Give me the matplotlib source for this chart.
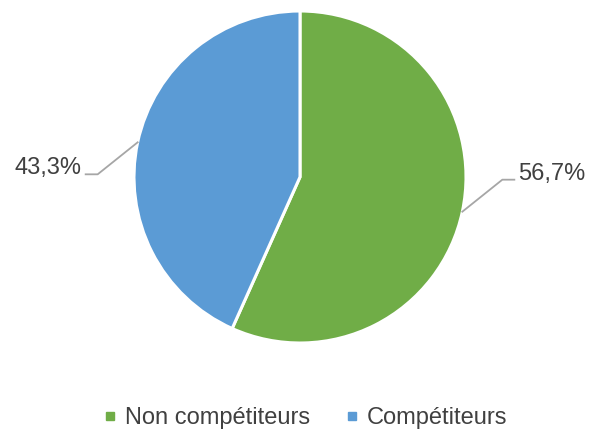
import numpy as np
import matplotlib
matplotlib.use("Agg")
import matplotlib.pyplot as plt
from matplotlib.lines import Line2D

plt.rcParams['font.family'] = ['Liberation Sans', 'DejaVu Sans']

labels = ["Non compétiteurs", "Compétiteurs"]
values = [56.7, 43.3]
colors = ["#70AD47", "#5B9BD5"]
text_color = "#404040"

W, H = 595, 436
fig = plt.figure(figsize=(W / 100, H / 100), dpi=100)
ax = fig.add_axes([0, 0, 1, 1])

cx, cy, r = 300, H - 177, 166
wedges, _ = ax.pie(values, colors=colors, startangle=90, counterclock=False,
                   center=(cx, cy), radius=r, frame=True,
                   wedgeprops=dict(edgecolor="white", linewidth=2.2))
ax.set_xlim(0, W)
ax.set_ylim(0, H)
ax.set_aspect("equal")
ax.axis("off")

# data labels with leader lines
for w, v in zip(wedges, values):
    mid = np.deg2rad((w.theta1 + w.theta2) / 2)
    x0, y0 = cx + r * np.cos(mid), cy + r * np.sin(mid)
    side = 1 if np.cos(mid) > 0 else -1
    x1, y1 = x0 + side * 40, y0 + side * 32
    x2 = x1 + side * 12
    ax.plot([x0, x1, x2], [y0, y1, y1], color="#A6A6A6", lw=1.3, zorder=3)
    txt = f"{v:.1f}%".replace(".", ",")
    ax.text(x2 + side * 4, y1 + 6, txt, fontsize=17, color=text_color,
            ha="left" if side > 0 else "right", va="center")

handles = [Line2D([], [], marker="s", linestyle="none", markersize=5.5,
                  markerfacecolor=c, markeredgecolor=c) for c in colors]
fig.legend(handles, labels, loc="center", bbox_to_anchor=(0.511, 1 - 418 / H),
           ncol=2, frameon=False, fontsize=17, labelcolor=text_color,
           handletextpad=0.25, columnspacing=1.35, handlelength=0.8)

fig.savefig("out.png", dpi=100)
